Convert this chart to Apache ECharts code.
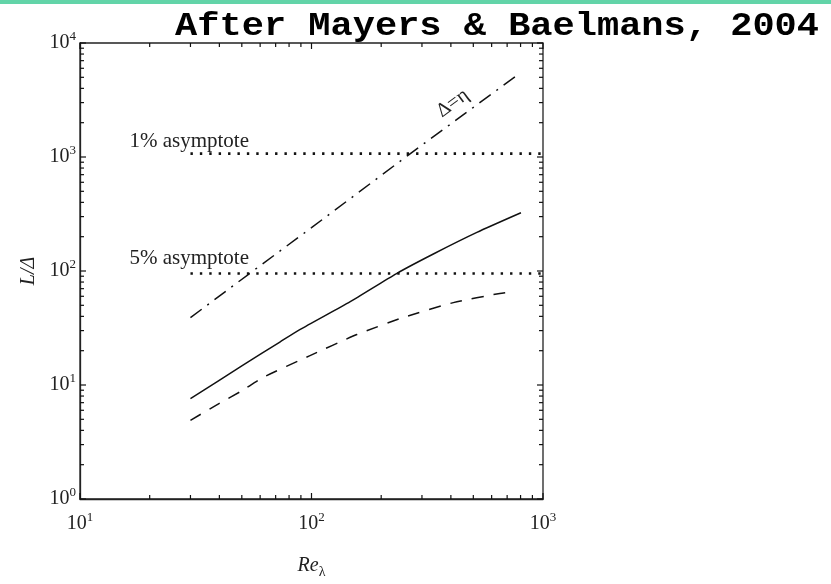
<!DOCTYPE html>
<html><head><meta charset="utf-8">
<script src="https://cdn.jsdelivr.net/npm/echarts@6/dist/echarts.min.js"></script>
<style>html,body{margin:0;padding:0;background:#fff}#c{width:831px;height:584px}</style>
</head><body><div id="c"></div>
<script>
// Data
const reSolid   = [30, 50, 73, 89, 147, 233, 336, 518, 803];
const valSolid  = [7.6, 14.7, 23.8, 30.6, 53.9, 95, 141, 218, 324];
const reDashed  = [30, 40, 50, 62, 98, 157, 250, 410, 651, 730];
const valDashed = [4.9, 6.9, 8.9, 11.7, 18.0, 27.7, 39.2, 52.8, 63.6, 65.5];
const reDashDot  = [30, 54, 100, 262, 770];
const valDashDot = [39, 95, 240, 1040, 5180];
const asymRe = [30, 1000];
const asym1Val = 1070;
const asym5Val = 95;
const xMajor = [10, 100, 1000];
const yMajor = [1, 10, 100, 1000, 10000];
const xMinor = [20,30,40,50,60,70,80,90,200,300,400,500,600,700,800,900];
const yMinor = [2,3,4,5,6,7,8,9,20,30,40,50,60,70,80,90,200,300,400,500,600,700,800,900,2000,3000,4000,5000,6000,7000,8000,9000];
const xRange = [10, 1000];
const yRange = [1, 10000];
const titleText = 'After Mayers & Baelmans, 2004';
const label1 = '1% asymptote';
const label5 = '5% asymptote';
const labelEta = 'Δ=η';

const zip = (a, b) => a.map((v, i) => [v, b[i]]);
const serif = 'Liberation Serif, Times New Roman, serif';
const ink = '#111';

function xTicks(len) {
  return function (params, api) {
    const v = api.value(0);
    const b = api.coord([v, yRange[0]]);
    const t = api.coord([v, yRange[1]]);
    return { type: 'group', children: [
      { type: 'line', shape: { x1: b[0], y1: b[1], x2: b[0], y2: b[1] - len }, style: { stroke: ink, lineWidth: 1.2 } },
      { type: 'line', shape: { x1: t[0], y1: t[1], x2: t[0], y2: t[1] + len }, style: { stroke: ink, lineWidth: 1.2 } }
    ]};
  };
}
function yTicks(len) {
  return function (params, api) {
    const v = api.value(1);
    const l = api.coord([xRange[0], v]);
    const r = api.coord([xRange[1], v]);
    return { type: 'group', children: [
      { type: 'line', shape: { x1: l[0], y1: l[1], x2: l[0] + len, y2: l[1] }, style: { stroke: ink, lineWidth: 1.2 } },
      { type: 'line', shape: { x1: r[0], y1: r[1], x2: r[0] - len, y2: r[1] }, style: { stroke: ink, lineWidth: 1.2 } }
    ]};
  };
}
const powLabel = v => '{a|10}{s|' + Math.round(Math.log10(v)) + '}';
const labelRich = {
  a: { fontFamily: serif, fontSize: 20, color: '#222', lineHeight: 26 },
  s: { fontFamily: serif, fontSize: 13, color: '#222', lineHeight: 13, verticalAlign: 'top' }
};

const chart = echarts.init(document.getElementById('c'));
chart.setOption({
  animation: false,
  backgroundColor: '#fff',
  grid: { left: 80, right: 288, top: 43, bottom: 78, show: true, borderColor: '#222', borderWidth: 1.3, backgroundColor: 'transparent' },
  xAxis: {
    type: 'log', logBase: 10, min: xRange[0], max: xRange[1], splitNumber: 2,
    axisLine: { show: true, lineStyle: { color: '#222', width: 1.3 } },
    axisTick: { show: false }, splitLine: { show: false },
    axisLabel: { formatter: powLabel, rich: labelRich, margin: 12 },
    name: '{i|Re}{b|λ}', nameLocation: 'middle', nameGap: 54,
    nameTextStyle: { rich: {
      i: { fontFamily: serif, fontStyle: 'italic', fontSize: 20, color: '#222', lineHeight: 26 },
      b: { fontFamily: serif, fontSize: 14, color: '#222', lineHeight: 14, verticalAlign: 'bottom' }
    } }
  },
  yAxis: {
    type: 'log', logBase: 10, min: yRange[0], max: yRange[1], splitNumber: 4,
    axisLine: { show: true, lineStyle: { color: '#222', width: 1.3 } },
    axisTick: { show: false }, splitLine: { show: false },
    axisLabel: { formatter: powLabel, rich: labelRich, margin: 4 },
    name: 'L/Δ', nameLocation: 'middle', nameGap: 41, nameRotate: 90,
    nameTextStyle: { fontFamily: serif, fontStyle: 'italic', fontSize: 20, color: '#222' }
  },
  series: [
    { type: 'custom', renderItem: xTicks(6), data: xMajor.map(v => [v, yRange[0]]), silent: true, clip: false, z: 5 },
    { type: 'custom', renderItem: xTicks(4), data: xMinor.map(v => [v, yRange[0]]), silent: true, clip: false, z: 5 },
    { type: 'custom', renderItem: yTicks(6), data: yMajor.map(v => [xRange[0], v]), silent: true, clip: false, z: 5 },
    { type: 'custom', renderItem: yTicks(4), data: yMinor.map(v => [xRange[0], v]), silent: true, clip: false, z: 5 },
    { type: 'line', data: zip(reSolid, valSolid), showSymbol: false, smooth: 0.2,
      lineStyle: { color: ink, width: 1.5, type: 'solid' } },
    { type: 'line', data: zip(reDashed, valDashed), showSymbol: false, smooth: 0.2,
      lineStyle: { color: ink, width: 1.5, type: [12, 10] } },
    { type: 'line', data: zip(reDashDot, valDashDot), showSymbol: false,
      lineStyle: { color: ink, width: 1.5, type: [14, 7, 2, 7] } },
    { type: 'line', data: asymRe.map(r => [r, asym1Val]), showSymbol: false,
      lineStyle: { color: ink, width: 2.6, type: [2.4, 7] } },
    { type: 'line', data: asymRe.map(r => [r, asym5Val]), showSymbol: false,
      lineStyle: { color: ink, width: 2.6, type: [2.4, 7] } }
  ]
});

const p1 = chart.convertToPixel({ xAxisIndex: 0, yAxisIndex: 0 }, [asymRe[0], asym1Val]);
const p5 = chart.convertToPixel({ xAxisIndex: 0, yAxisIndex: 0 }, [asymRe[0], asym5Val]);
const pe = chart.convertToPixel({ xAxisIndex: 0, yAxisIndex: 0 }, [420, 2100]);
const a0 = chart.convertToPixel({ xAxisIndex: 0, yAxisIndex: 0 }, [reDashDot[0], valDashDot[0]]);
const a1 = chart.convertToPixel({ xAxisIndex: 0, yAxisIndex: 0 }, [reDashDot[4], valDashDot[4]]);
const ang = Math.atan2(a0[1] - a1[1], a1[0] - a0[0]);
const lblStyle = { fontFamily: serif, fontSize: 21, fill: '#222' };
chart.setOption({
  graphic: [
    { type: 'rect', left: 0, top: 0, shape: { width: 831, height: 4 }, style: { fill: '#62d4a8' } },
    { type: 'text', x: 819, y: 43, scaleY: 0.88, style: { text: titleText, fontFamily: 'Liberation Mono, Courier New, monospace', fontWeight: 'bold', fontSize: 37, fill: '#000', textAlign: 'right', textVerticalAlign: 'bottom' } },
    { type: 'text', x: p1[0] - 61, y: p1[1] - 2, style: Object.assign({ text: label1, textAlign: 'left', textVerticalAlign: 'bottom' }, lblStyle) },
    { type: 'text', x: p5[0] - 61, y: p5[1] - 5, style: Object.assign({ text: label5, textAlign: 'left', textVerticalAlign: 'bottom' }, lblStyle) },
    { type: 'text', x: pe[0] - 3, y: pe[1] - 17, rotation: ang, style: { text: labelEta, fontFamily: serif, fontSize: 20, fill: '#222', textAlign: 'center', textVerticalAlign: 'middle' } }
  ]
});
</script>
</body></html>
